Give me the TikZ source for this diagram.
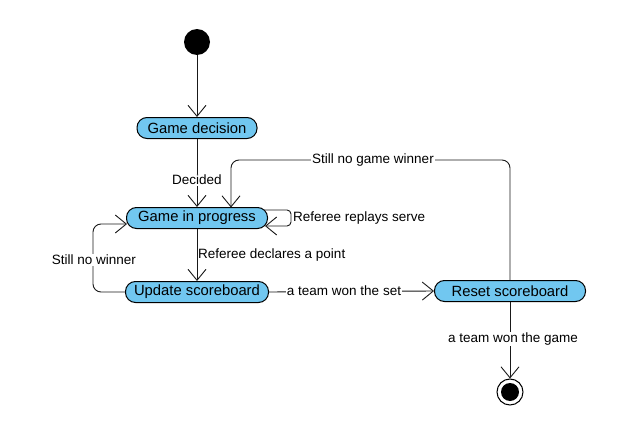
\documentclass[tikz,border=0pt]{standalone}
\usepackage{fontspec}
\setmainfont{Liberation Sans}
\usetikzlibrary{arrows.meta}
\definecolor{stfill}{RGB}{113,199,240}
\begin{document}
\begin{tikzpicture}[x=1pt,y=-1pt,
  state/.style={draw=black, line width=1pt, fill=stfill, rounded corners=10pt, minimum height=21pt, inner sep=0pt, font=\fontsize{14.8}{16}\selectfont},
  lbl/.style={font=\fontsize{13.5}{15}\selectfont, fill=white, inner sep=1pt},
  tr/.style={draw=black!90, line width=0.9pt, -{Straight Barb[length=11pt,width=18pt,line width=0.9pt]}, rounded corners=8pt}]
\useasboundingbox (0,0) rectangle (633,447);
\node[circle, fill=black, minimum size=26pt, inner sep=0pt] (init) at (197,42) {};
\node[state, minimum width=120pt] (dec) at (197,128) {Game decision};
\node[state, minimum width=141pt] (prog) at (197,218) {Game in progress};
\node[state, minimum width=143pt] (upd) at (197,292) {Update scoreboard};
\node[state, minimum width=151pt] (reset) at (510,291) {Reset scoreboard};
\node[circle, draw=black, line width=1pt, minimum size=26pt, inner sep=0pt] (fin) at (510,392) {};
\node[circle, fill=black, minimum size=18pt, inner sep=0pt] at (fin) {};

\draw[tr] (init) -- (dec);
\draw[tr] (dec) -- (prog);
\node[lbl] at (197,180) {Decided};
\draw[tr] (prog) -- (upd);
\node[lbl, anchor=west, fill=none] at (197,255) {Referee declares a point};
\coordinate (ps) at (264,210);
\coordinate (pe) at (265,226);
\coordinate (sl1) at (291,210);
\coordinate (sl2) at (291,226);
\draw[tr, rounded corners=4pt] (ps) -- (sl1) -- (sl2) -- (pe);
\node[lbl, anchor=west, fill=none] at (292,218) {Referee replays serve};
\coordinate (w1) at (93,292);
\coordinate (w2) at (93,224);
\coordinate (we) at (127,224);
\draw[tr] (upd.west) -- (w1) -- (w2) -- (we);
\node[lbl] at (94,260) {Still no winner};
\draw[tr] (upd.east) -- (reset.west);
\node[lbl] at (344,291) {a team won the set};
\coordinate (g1) at (510,160);
\coordinate (g2) at (231,160);
\coordinate (ge) at (231,207.5);
\draw[tr] (reset.north) -- (g1) -- (g2) -- (ge);
\node[lbl] at (373,160) {Still no game winner};
\draw[tr] (reset.south) -- (fin);
\node[lbl] at (513,339) {a team won the game};
\end{tikzpicture}
\end{document}
